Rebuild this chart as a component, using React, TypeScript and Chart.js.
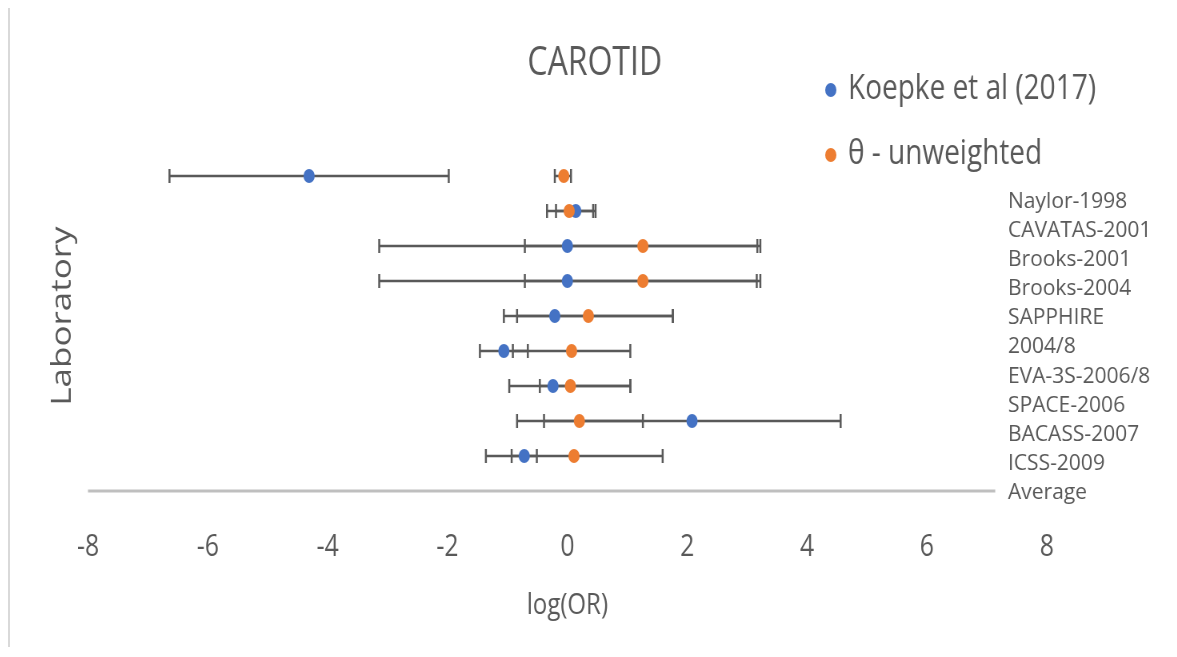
import { useEffect, useRef } from "react";
import { Chart, registerables } from "chart.js";

Chart.register(...registerables);

// ---- data ----
const chartTitle = "CAROTID";
const xAxisTitle = "log(OR)";
const yAxisTitle = "Laboratory";
const studyLabels = [
  "Naylor-1998",
  "CAVATAS-2001",
  "Brooks-2001",
  "Brooks-2004",
  "SAPPHIRE",
  "2004/8",
  "EVA-3S-2006/8",
  "SPACE-2006",
  "BACASS-2007",
  "ICSS-2009",
  "Average",
];
const rowPositions = [9, 8, 7, 6, 5, 4, 3, 2, 1];

const koepkeLabel = "Koepke et al (2017)";
const koepkeLogOR = [-4.31, 0.14, 0.0, 0.0, -0.21, -1.06, -0.24, 2.08, -0.72];
const koepkeLow = [-6.64, -0.19, -3.14, -3.14, -1.06, -1.46, -0.97, -0.39, -1.36];
const koepkeHigh = [-1.98, 0.47, 3.17, 3.16, 1.76, -0.66, 1.05, 4.56, -0.51];

const thetaLabel = "θ - unweighted";
const thetaLogOR = [-0.06, 0.03, 1.26, 1.26, 0.35, 0.07, 0.05, 0.2, 0.11];
const thetaLow = [-0.21, -0.34, -0.71, -0.71, -0.84, -0.91, -0.46, -0.84, -0.93];
const thetaHigh = [0.06, 0.43, 3.22, 3.22, 1.76, 1.05, 1.05, 1.26, 1.59];

const averageLineX = [-8, 7.14];
const averageLineY = [0, 0];

const xMin = -8;
const xMax = 8;
const xStep = 2;
const yMin = 0;
const yMax = 10;

// ---- layout / style ----
const SQUEEZE = 0.8;
const CANVAS_W = 1449;
const CANVAS_H = 640;
const FONT = "'Open Sans', 'Liberation Sans', sans-serif";
const TEXT = "#595959";
const BLUE = "#4472C4";
const ORANGE = "#ED7D31";

const errorBarPlugin = {
  id: "errorBars",
  beforeDatasetsDraw(chart: any) {
    const { ctx, scales } = chart;
    const xs = scales.x;
    const ys = scales.y;
    ctx.save();
    ctx.strokeStyle = "#595959";
    ctx.lineWidth = 2.5;
    chart.data.datasets.forEach((ds: any) => {
      if (!ds.errLow) return;
      ds.data.forEach((p: any, i: number) => {
        const py = ys.getPixelForValue(p.y);
        const x1 = xs.getPixelForValue(ds.errLow[i]);
        const x2 = xs.getPixelForValue(ds.errHigh[i]);
        ctx.beginPath();
        ctx.moveTo(x1, py);
        ctx.lineTo(x2, py);
        ctx.moveTo(x1, py - 7);
        ctx.lineTo(x1, py + 7);
        ctx.moveTo(x2, py - 7);
        ctx.lineTo(x2, py + 7);
        ctx.stroke();
      });
    });
    ctx.restore();
  },
};

const annotationsPlugin = {
  id: "sideTexts",
  afterDraw(chart: any) {
    const { ctx, scales } = chart;
    const ys = scales.y;
    ctx.save();
    // study labels on the right
    ctx.fillStyle = TEXT;
    ctx.font = `21px ${FONT}`;
    ctx.textAlign = "left";
    ctx.textBaseline = "middle";
    const baseY = ys.getPixelForValue(0) + 2;
    const step = 29.1;
    const labelX = 1247.5;
    studyLabels.forEach((s, i) => {
      const py = baseY - (studyLabels.length - 1 - i) * step;
      ctx.save();
      ctx.translate(labelX, py);
      ctx.scale(1 / SQUEEZE, 1);
      ctx.fillText(s, 0, 0);
      ctx.restore();
    });
    // legend
    const entries = chart.data.datasets.filter((d: any) => d.inLegend);
    entries.sort((a: any, b: any) => a.legendRank - b.legendRank);
    const dotX = 1026;
    const textX = 1047.5;
    const legendY = [82, 147];
    entries.forEach((d: any, i: number) => {
      ctx.fillStyle = d.backgroundColor;
      ctx.beginPath();
      ctx.arc(dotX, legendY[i] + 1, 7, 0, Math.PI * 2);
      ctx.fill();
      ctx.fillStyle = TEXT;
      ctx.font = `35px ${FONT}`;
      ctx.textBaseline = "middle";
      ctx.fillText(d.label, textX, legendY[i]);
    });
    ctx.restore();
  },
};

export default function App() {
  const canvasRef = useRef<HTMLCanvasElement | null>(null);

  useEffect(() => {
    const canvas = canvasRef.current;
    if (!canvas) return;
    const chart = new Chart(canvas, {
      type: "scatter",
      data: {
        datasets: [
          {
            label: thetaLabel,
            data: thetaLogOR.map((v, i) => ({ x: v, y: rowPositions[i] })),
            backgroundColor: ORANGE,
            borderColor: ORANGE,
            borderWidth: 0,
            pointRadius: 7,
            order: 0,
            errLow: thetaLow,
            errHigh: thetaHigh,
            inLegend: true,
            legendRank: 2,
          } as any,
          {
            label: koepkeLabel,
            data: koepkeLogOR.map((v, i) => ({ x: v, y: rowPositions[i] })),
            backgroundColor: BLUE,
            borderColor: BLUE,
            borderWidth: 0,
            pointRadius: 7,
            order: 1,
            errLow: koepkeLow,
            errHigh: koepkeHigh,
            inLegend: true,
            legendRank: 1,
          } as any,
          {
            label: "Average",
            data: averageLineX.map((v, i) => ({ x: v, y: averageLineY[i] })),
            showLine: true,
            borderColor: "#BFBFBF",
            backgroundColor: "#BFBFBF",
            borderWidth: 3,
            pointRadius: 0,
            order: 2,
            clip: false,
          } as any,
        ],
      },
      options: {
        animation: false,
        responsive: false,
        maintainAspectRatio: false,
        layout: { padding: { left: 13, right: 0, top: 0, bottom: 0 } },
        plugins: {
          legend: { display: false },
          tooltip: { enabled: false },
          title: {
            display: true,
            text: chartTitle,
            color: TEXT,
            font: { family: FONT, size: 40, weight: "normal" },
            padding: { top: 33, bottom: 53 },
          },
        },
        scales: {
          x: {
            type: "linear",
            min: xMin,
            max: xMax,
            grid: { display: false, drawTicks: false },
            border: { display: false },
            ticks: {
              stepSize: xStep,
              color: TEXT,
              padding: 37.5,
              font: { family: FONT, size: 31 },
            },
            title: {
              display: true,
              text: xAxisTitle,
              color: TEXT,
              font: { family: FONT, size: 30 },
              padding: { top: 0, bottom: 24 },
            },
            afterFit: (scale: any) => {
              scale.height = 156;
            },
          },
          y: {
            type: "linear",
            position: "left",
            min: yMin,
            max: yMax,
            grid: { display: false, drawTicks: false },
            border: { display: false },
            ticks: { display: false },
            title: {
              display: true,
              text: yAxisTitle,
              color: TEXT,
              font: { family: FONT, size: 35 },
              padding: { top: 32, bottom: 0 },
            },
            afterFit: (scale: any) => {
              scale.width = 84.5;
            },
          },
          yRight: {
            type: "linear",
            position: "right",
            min: yMin,
            max: yMax,
            grid: { display: false, drawTicks: false },
            border: { display: false },
            ticks: { display: false },
            afterFit: (scale: any) => {
              scale.width = 153;
            },
          },
        },
      } as any,
      plugins: [errorBarPlugin, annotationsPlugin],
    });
    return () => chart.destroy();
  }, []);

  return (
    <div
      style={{
        marginTop: -3,
        borderTop: "2px solid #d9d9d9",
        borderLeft: "2px solid #d9d9d9",
        height: CANVAS_H,
        overflow: "hidden",
        background: "#ffffff",
      }}
    >
      <div
        style={{
          width: CANVAS_W,
          height: CANVAS_H,
          transform: `scaleX(${SQUEEZE})`,
          transformOrigin: "0 0",
        }}
      >
        <canvas
          ref={canvasRef}
          width={CANVAS_W}
          height={CANVAS_H}
          style={{ display: "block", width: CANVAS_W, height: CANVAS_H }}
        />
      </div>
    </div>
  );
}
